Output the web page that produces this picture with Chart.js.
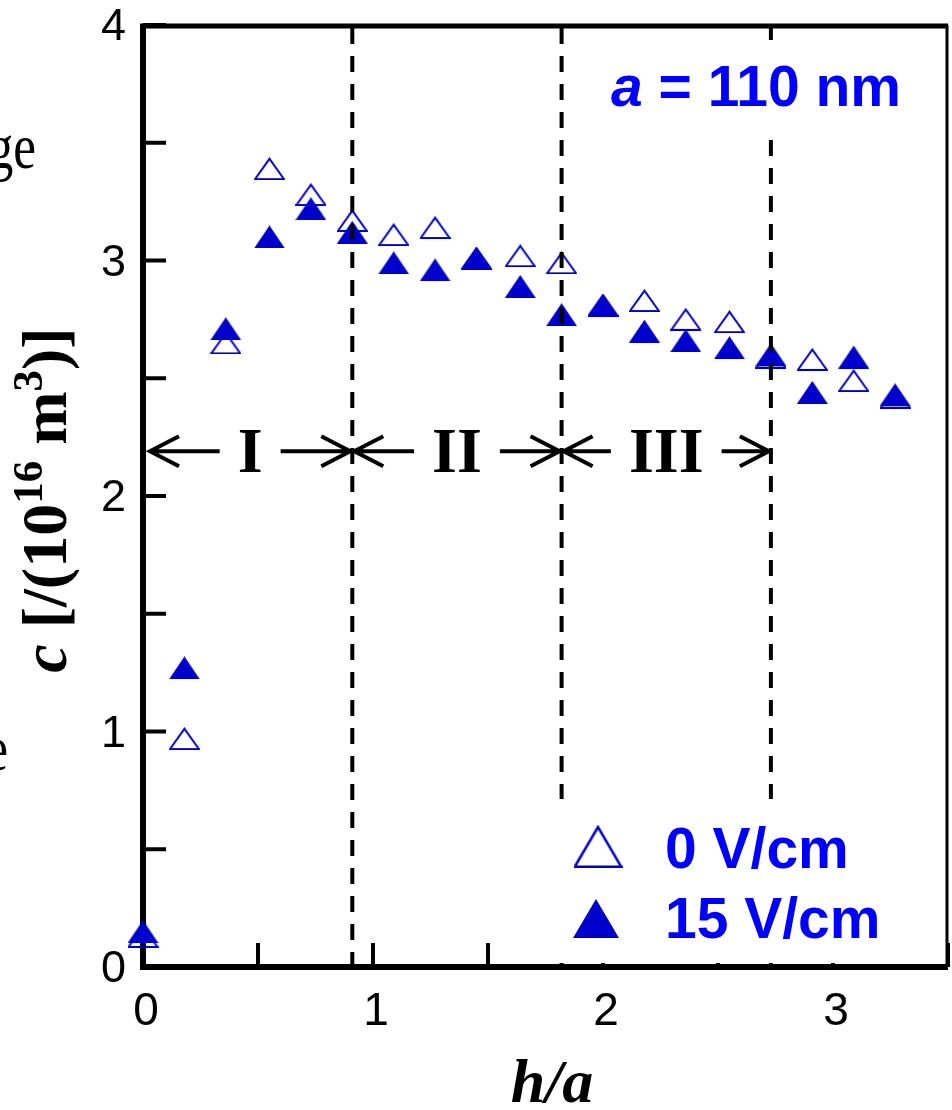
<!DOCTYPE html>
<html>
<head>
<meta charset="utf-8">
<title>c vs h/a</title>
<script src="https://cdn.jsdelivr.net/npm/chart.js@4.4.1/dist/chart.umd.min.js"></script>
<style>
  html, body { margin: 0; padding: 0; background: #fff; }
  #wrap { width: 952px; height: 1110px; }
</style>
</head>
<body>
<div id="wrap"><canvas id="myChart" width="952" height="1110"></canvas></div>
<script>
'use strict';

// h/a positions (h in 20 nm steps, a = 110 nm)
let hOverA = [0, 0.18, 0.36, 0.55, 0.73, 0.91, 1.09, 1.27, 1.45, 1.64, 1.82, 2.0, 2.18, 2.36, 2.55, 2.73, 2.91, 3.09, 3.27];
// c in units of 1e16 /m^3
let cZeroField = [0.13, 0.97, 2.65, 3.39, 3.28, 3.17, 3.11, 3.14, 3.01, 3.02, 2.99, 2.81, 2.83, 2.75, 2.74, 2.59, 2.58, 2.49, 2.42];
let cFifteen = [0.15, 1.27, 2.71, 3.10, 3.22, 3.12, 2.99, 2.96, 3.01, 2.89, 2.77, 2.81, 2.70, 2.66, 2.63, 2.60, 2.44, 2.59, 2.43];
let seriesNames = ['0 V/cm', '15 V/cm'];

let regionEdges = [0, 0.91, 1.82, 2.73];
let regionNames = ['I', 'II', 'III'];
let regionArrowLevel = 2.19;

let xTickLabels = [0, 1, 2, 3];
let yTickLabels = [0, 1, 2, 3, 4];

let markerBlue = '#0000CC';
let textBlue = '#0000FF';
let serif = '"Liberation Serif", "Times New Roman", serif';
let sans = '"Liberation Sans", Arial, sans-serif';

// triangle markers drawn once into small canvases
function makeTriangle(w, h, filled, lw) {
    let cv = document.createElement('canvas');
    cv.width = w;
    cv.height = h;
    let g = cv.getContext('2d');
    g.beginPath();
    if (filled) {
        g.moveTo(0, h);
        g.lineTo(w / 2, 0);
        g.lineTo(w, h);
        g.closePath();
        g.fillStyle = markerBlue;
        g.fill();
    } else {
        let p = lw / 2;
        g.moveTo(p, h - p);
        g.lineTo(w / 2, p * 1.6);
        g.lineTo(w - p, h - p);
        g.closePath();
        g.lineWidth = lw;
        g.strokeStyle = markerBlue;
        g.stroke();
    }
    return cv;
}

let openTri = makeTriangle(31, 23, false, 2);
let fullTri = makeTriangle(31, 23, true, 0);
let openTriBig = makeTriangle(49, 43, false, 2.5);
let fullTriBig = makeTriangle(46, 39, true, 0);

function toPoints(xs, ys) {
    let pts = [];
    for (let i = 0; i < xs.length; i++) {
        pts.push({ x: xs[i], y: ys[i] });
    }
    return pts;
}

function drawRich(ctx, parts, x, y) {
    let total = 0;
    for (let p of parts) {
        ctx.font = p.font;
        total += ctx.measureText(p.text).width;
    }
    let cx = x - total / 2;
    for (let p of parts) {
        ctx.font = p.font;
        ctx.fillText(p.text, cx, y + (p.dy || 0));
        cx += ctx.measureText(p.text).width;
    }
}

function arrow(ctx, from, to, y) {
    let dir = to > from ? 1 : -1;
    ctx.beginPath();
    ctx.moveTo(from, y);
    ctx.lineTo(to, y);
    ctx.moveTo(to - dir * 29, y - 15);
    ctx.lineTo(to, y);
    ctx.lineTo(to - dir * 29, y + 15);
    ctx.stroke();
}

let decorPlugin = {
    id: 'decor',
    beforeDatasetsDraw(chart) {
        let ctx = chart.ctx;
        let a = chart.chartArea;
        let xs = chart.scales.x;
        let ys = chart.scales.y;
        ctx.save();
        ctx.strokeStyle = '#000';
        ctx.lineWidth = 4;
        // inward ticks
        for (let t of ys.ticks) {
            let py = ys.getPixelForValue(t.value);
            ctx.beginPath();
            ctx.moveTo(a.left, py);
            ctx.lineTo(a.left + 23, py);
            ctx.stroke();
        }
        for (let t of xs.ticks) {
            let px = xs.getPixelForValue(t.value);
            ctx.beginPath();
            ctx.moveTo(px, a.bottom);
            ctx.lineTo(px, a.bottom - 24);
            ctx.stroke();
        }
        // frame
        ctx.lineWidth = 5;
        ctx.beginPath();
        ctx.moveTo(a.left - 3, a.top + 1);
        ctx.lineTo(a.right, a.top + 1);
        ctx.stroke();
        ctx.lineWidth = 3;
        ctx.beginPath();
        ctx.moveTo(a.right - 1, a.top);
        ctx.lineTo(a.right - 1, a.bottom);
        ctx.stroke();
        ctx.lineWidth = 6;
        ctx.beginPath();
        ctx.moveTo(a.left, a.top - 1);
        ctx.lineTo(a.left, a.bottom + 3);
        ctx.moveTo(a.left - 3, a.bottom);
        ctx.lineTo(a.right, a.bottom);
        ctx.stroke();
        ctx.restore();
    },
    afterDatasetsDraw(chart) {
        let ctx = chart.ctx;
        let a = chart.chartArea;
        let xs = chart.scales.x;
        let ys = chart.scales.y;
        ctx.save();

        // region boundaries
        ctx.strokeStyle = '#000';
        ctx.lineWidth = 4;
        ctx.setLineDash([16, 12]);
        for (let i = 1; i < regionEdges.length; i++) {
            let px = xs.getPixelForValue(regionEdges[i]);
            ctx.beginPath();
            ctx.moveTo(px, a.top + 3);
            ctx.lineTo(px, a.bottom);
            ctx.stroke();
        }
        ctx.setLineDash([]);

        // region arrows and names
        let ay = ys.getPixelForValue(regionArrowLevel);
        ctx.lineWidth = 4;
        ctx.fillStyle = '#000';
        ctx.textAlign = 'center';
        ctx.textBaseline = 'alphabetic';
        ctx.font = 'bold 64px ' + serif;
        for (let i = 0; i < regionNames.length; i++) {
            let x0 = xs.getPixelForValue(regionEdges[i]) + (i === 0 ? 7 : 2);
            let x1 = xs.getPixelForValue(regionEdges[i + 1]) - 2;
            let cx = (x0 + x1) / 2;
            let half = ctx.measureText(regionNames[i]).width / 2;
            arrow(ctx, cx - half - 18, x0, ay);
            arrow(ctx, cx + half + 18, x1, ay);
            ctx.fillText(regionNames[i], cx, ay + 21);
        }

        // size label
        ctx.fillStyle = '#fff';
        ctx.fillRect(600, 40, 325, 97);
        ctx.fillStyle = textBlue;
        ctx.textAlign = 'left';
        ctx.font = 'italic bold 57px ' + sans;
        ctx.fillText('a', 611, 106);
        let aw = ctx.measureText('a').width;
        ctx.font = 'bold 57px ' + sans;
        ctx.fillText(' = 110 nm', 611 + aw, 106);

        // legend
        ctx.fillStyle = '#fff';
        ctx.fillRect(548, 799, a.right - 3 - 548, 164);
        ctx.drawImage(openTriBig, 598 - 24.5, 825);
        ctx.drawImage(fullTriBig, 596 - 23, 899);
        ctx.fillStyle = textBlue;
        ctx.font = 'bold 57px ' + sans;
        ctx.fillText(seriesNames[0], 665, 868);
        ctx.fillText(seriesNames[1], 665, 938);

        // axis titles
        ctx.fillStyle = '#000';
        ctx.textAlign = 'center';
        ctx.font = 'italic bold 62px ' + serif;
        ctx.fillText('h/a', 552, 1102);

        ctx.save();
        ctx.translate(66, 500);
        ctx.rotate(-Math.PI / 2);
        ctx.textAlign = 'left';
        drawRich(ctx, [
            { text: 'c', font: 'italic bold 64px ' + serif },
            { text: ' [/(10', font: 'bold 64px ' + serif },
            { text: '16', font: 'bold 43px ' + serif, dy: -24 },
            { text: ' m', font: 'bold 64px ' + serif },
            { text: '3', font: 'bold 43px ' + serif, dy: -24 },
            { text: ')]', font: 'bold 64px ' + serif }
        ], 0, 0);
        ctx.restore();

        // clipped text from the neighbouring column
        ctx.font = '64px ' + serif;
        ctx.textAlign = 'right';
        ctx.save();
        ctx.scale(0.8, 1);
        ctx.fillText('ge', 36 / 0.8, 168);
        ctx.fillText('e', 8 / 0.8, 770);
        ctx.restore();

        ctx.restore();
    }
};

let ctx = document.getElementById('myChart').getContext('2d');
let myChart = new Chart(ctx, {
    type: 'scatter',
    data: {
        datasets: [{
            label: seriesNames[0],
            data: toPoints(hOverA, cZeroField),
            pointStyle: openTri,
            pointRadius: 15,
            order: 2,
            clip: false
        }, {
            label: seriesNames[1],
            data: toPoints(hOverA, cFifteen),
            pointStyle: fullTri,
            pointRadius: 15,
            order: 1,
            clip: false
        }]
    },
    options: {
        responsive: false,
        animation: false,
        devicePixelRatio: 1,
        layout: { autoPadding: false, padding: { top: 25, right: 4, left: 0, bottom: 0 } },
        plugins: {
            legend: { display: false },
            tooltip: { enabled: false }
        },
        scales: {
            x: {
                type: 'linear',
                min: 0,
                max: 3.5,
                grid: { display: false, drawTicks: false },
                border: { display: false },
                ticks: {
                    stepSize: 0.5,
                    padding: 22,
                    labelOffset: 3,
                    color: '#000',
                    maxRotation: 0,
                    autoSkip: false,
                    font: { family: sans, size: 46, lineHeight: 1 },
                    callback: v => xTickLabels.includes(v) ? String(v) : ''
                },
                afterFit(scale) {
                    scale.height = 143;
                    scale.paddingLeft = 0;
                    scale.paddingRight = 0;
                }
            },
            y: {
                min: 0,
                max: 4,
                grid: { display: false, drawTicks: false },
                border: { display: false },
                ticks: {
                    stepSize: 0.5,
                    padding: 17,
                    labelOffset: 3,
                    color: '#000',
                    autoSkip: false,
                    font: { family: sans, size: 45, lineHeight: 1 },
                    callback: v => yTickLabels.includes(v) ? String(v) : ''
                },
                afterFit(scale) {
                    scale.width = 143;
                    scale.paddingTop = 0;
                    scale.paddingBottom = 0;
                }
            }
        }
    },
    plugins: [decorPlugin]
});
</script>
</body>
</html>
